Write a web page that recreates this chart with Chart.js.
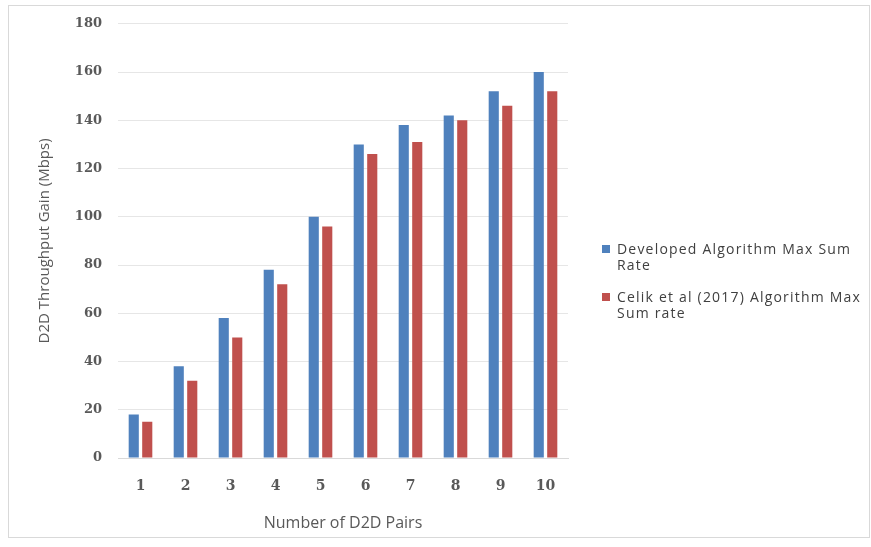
<!DOCTYPE html>
<html>
<head>
<meta charset="utf-8">
<script src="https://cdn.jsdelivr.net/npm/chart.js@4"></script>
<style>
  body { margin: 0; background: #fff; }
  #wrap { position: relative; width: 871px; height: 547px; }
  #frame { position: absolute; left: 8px; top: 5px; width: 860px; height: 531px; border: 1px solid #d9d9d9; pointer-events: none; }
  #legend { position: absolute; left: 602px; top: 241px; font: 14px "Open Sans", sans-serif; letter-spacing: 1.2px; color: #404040; }
  #legend .item { position: relative; padding-left: 15px; margin-bottom: 16px; line-height: 16px; width: 246px; }
  #legend .box { position: absolute; left: 0; top: 4px; width: 8px; height: 8px; }
</style>
</head>
<body>
<div id="wrap">
  <canvas id="myChart" width="871" height="547"></canvas>
  <div id="frame"></div>
  <div id="legend"></div>
</div>
<script>
const pairs = ['1', '2', '3', '4', '5', '6', '7', '8', '9', '10'];
const developedRate = [18, 38, 58, 78, 100, 130, 138, 142, 152, 160];
const celikRate = [15, 32, 50, 72, 96, 126, 131, 140, 146, 152];
const seriesNames = ['Developed Algorithm Max Sum Rate', 'Celik et al (2017) Algorithm Max Sum rate'];
const seriesColors = ['#4F81BD', '#C0504D'];

const ctx = document.getElementById('myChart');

const chart = new Chart(ctx, {
    type: 'bar',
    data: {
        labels: pairs,
        datasets: [
            { label: seriesNames[0], data: developedRate, backgroundColor: seriesColors[0] },
            { label: seriesNames[1], data: celikRate, backgroundColor: seriesColors[1] }
        ]
    },
    options: {
        responsive: false,
        animation: false,
        layout: { padding: { left: 34, right: 303, top: 20, bottom: 10 } },
        datasets: { bar: { categoryPercentage: 0.6, barPercentage: 0.75 } },
        plugins: {
            legend: { display: false },
            tooltip: { enabled: false }
        },
        scales: {
            x: {
                grid: { display: false, drawTicks: false },
                border: { color: '#d9d9d9' },
                ticks: { color: '#595959', padding: 20, font: { family: 'DejaVu Serif', size: 14, weight: 'bold' } },
                title: {
                    display: true,
                    text: 'Number of D2D Pairs',
                    color: '#595959',
                    font: { family: 'Open Sans', size: 16 },
                    padding: { top: 12, bottom: 4 }
                },
                afterFit: function(scale) { scale.height = 79; }
            },
            y: {
                min: 0,
                max: 180,
                ticks: { stepSize: 20, color: '#595959', padding: 16, font: { family: 'DejaVu Serif', size: 13, weight: 'bold' } },
                grid: { color: '#e6e6e6', drawTicks: false },
                border: { display: false },
                title: {
                    display: true,
                    text: 'D2D Throughput Gain (Mbps)',
                    color: '#595959',
                    font: { family: 'Open Sans', size: 15 },
                    padding: 2
                },
                afterFit: function(scale) { scale.width = 84; }
            }
        }
    }
});

// legend with wrapped labels, like the original
const legend = document.getElementById('legend');
chart.data.datasets.forEach(ds => {
    const item = document.createElement('div');
    item.className = 'item';
    item.innerHTML = '<span class="box" style="background:' + ds.backgroundColor + '"></span>' + ds.label;
    legend.appendChild(item);
});
</script>
</body>
</html>
